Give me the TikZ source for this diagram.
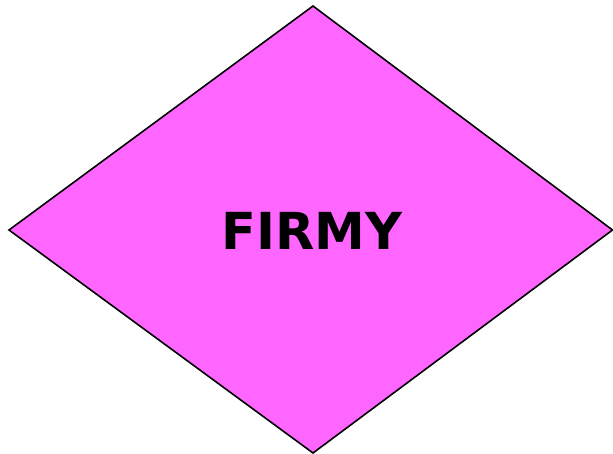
\documentclass[tikz,border=0pt]{standalone}
\usepackage{fontspec}
\setmainfont{DejaVu Sans}
\definecolor{diafill}{RGB}{255,102,255}
\begin{document}
\begin{tikzpicture}[x=1pt,y=-1pt,
  diaborder/.style={draw=black,line width=1.6pt,fill=diafill,line join=miter},
  labeltext/.style={font=\fontsize{51}{60}\selectfont\bfseries,text=black,inner sep=0pt,anchor=center}]
\useasboundingbox (0,0) rectangle (613,454);
\coordinate (top) at (313,6);
\coordinate (left) at (9,230);
\coordinate (right) at (612.5,230);
\coordinate (bottom) at (313,453);
\draw[diaborder] (top) -- (right) -- (bottom) -- (left) -- cycle;
\node[labeltext] (firmy) at (312,231) {FIRMY};
\end{tikzpicture}
\end{document}
